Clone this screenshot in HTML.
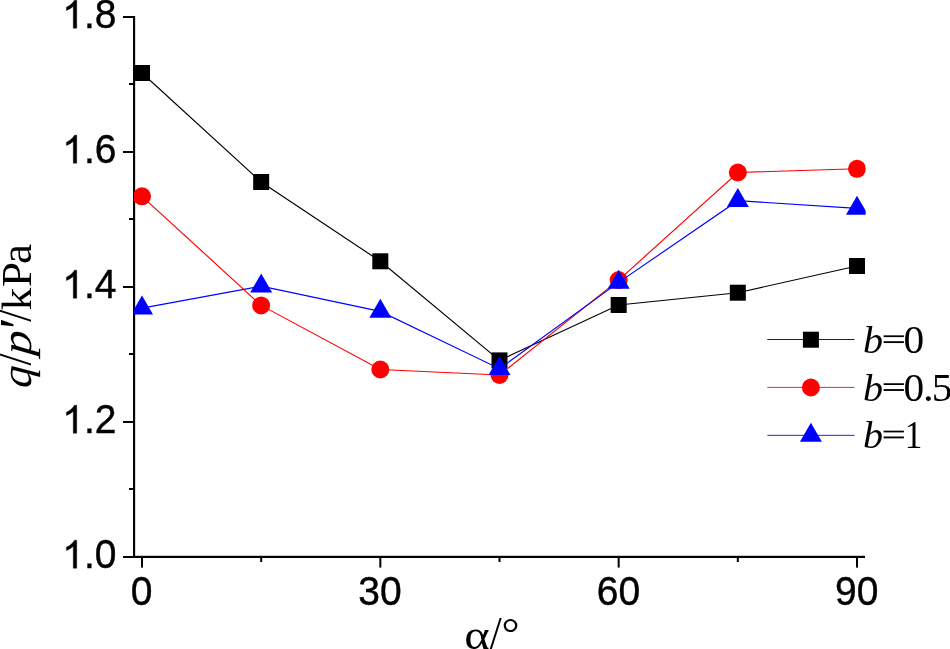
<!DOCTYPE html>
<html><head><meta charset="utf-8"><title>chart</title>
<style>
html,body{margin:0;padding:0;background:#fff;}
body{width:950px;height:649px;overflow:hidden;position:relative;}
svg{position:absolute;left:0;top:0;display:block;will-change:transform;}
.tk{font-family:"Liberation Sans",sans-serif;font-size:39px;fill:#000;stroke:#000;stroke-width:0.4px;}
.one{fill:#000;stroke:#000;stroke-width:0.4px;vector-effect:non-scaling-stroke;}
.sf{font-family:"Liberation Serif",serif;fill:#000;}
</style></head><body>
<svg width="950" height="649" viewBox="0 0 950 649">
<rect x="0" y="0" width="950" height="649" fill="#fff"/>
<defs><clipPath id="pa"><rect x="134" y="0" width="731.7" height="557"/></clipPath></defs>

<g fill="#000">
<rect x="133" y="16" width="2.15" height="542"/>
<rect x="133" y="555.8" width="732" height="2.2"/>
<rect x="123" y="16" width="11" height="2"/>
<rect x="123" y="151" width="11" height="2"/>
<rect x="123" y="286" width="11" height="2"/>
<rect x="123" y="421" width="11" height="2"/>
<rect x="123" y="556" width="11" height="2"/>
<rect x="129" y="83" width="5" height="2"/>
<rect x="129" y="218" width="5" height="2"/>
<rect x="129" y="353" width="5" height="2"/>
<rect x="129" y="488" width="5" height="2"/>
<rect x="141.00" y="557" width="2" height="10.6"/>
<rect x="379.33" y="557" width="2" height="10.6"/>
<rect x="617.67" y="557" width="2" height="10.6"/>
<rect x="856.00" y="557" width="2" height="10.6"/>
<rect x="260.17" y="557" width="2" height="5"/>
<rect x="498.50" y="557" width="2" height="5"/>
<rect x="736.83" y="557" width="2" height="5"/>
</g>
<g clip-path="url(#pa)">
<polyline points="142.00,73.00 261.17,182.00 380.33,261.30 499.50,360.40 618.67,305.00 737.83,292.70 857.00,266.00" fill="none" stroke="#000000" stroke-width="1.15"/>
<rect x="134.00" y="65.00" width="16.0" height="16.0" fill="#000000"/>
<rect x="253.17" y="174.00" width="16.0" height="16.0" fill="#000000"/>
<rect x="372.33" y="253.30" width="16.0" height="16.0" fill="#000000"/>
<rect x="491.50" y="352.40" width="16.0" height="16.0" fill="#000000"/>
<rect x="610.67" y="297.00" width="16.0" height="16.0" fill="#000000"/>
<rect x="729.83" y="284.70" width="16.0" height="16.0" fill="#000000"/>
<rect x="849.00" y="258.00" width="16.0" height="16.0" fill="#000000"/>
<polyline points="142.00,196.30 261.17,305.40 380.33,369.50 499.50,375.00 618.67,280.10 737.83,172.50 857.00,168.80" fill="none" stroke="#ff0000" stroke-width="1.15"/>
<circle cx="142.00" cy="196.30" r="9.0" fill="#ff0000"/>
<circle cx="261.17" cy="305.40" r="9.0" fill="#ff0000"/>
<circle cx="380.33" cy="369.50" r="9.0" fill="#ff0000"/>
<circle cx="499.50" cy="375.00" r="9.0" fill="#ff0000"/>
<circle cx="618.67" cy="280.10" r="9.0" fill="#ff0000"/>
<circle cx="737.83" cy="172.50" r="9.0" fill="#ff0000"/>
<circle cx="857.00" cy="168.80" r="9.0" fill="#ff0000"/>
<polyline points="142.00,308.10 261.17,286.20 380.33,311.40 499.50,368.70 618.67,282.40 737.83,200.70 857.00,208.40" fill="none" stroke="#0000ff" stroke-width="1.15"/>
<path d="M142.00,295.40 L153.00,314.45 L131.00,314.45 Z" fill="#0000ff"/>
<path d="M261.17,273.50 L272.17,292.55 L250.17,292.55 Z" fill="#0000ff"/>
<path d="M380.33,298.70 L391.33,317.75 L369.33,317.75 Z" fill="#0000ff"/>
<path d="M499.50,356.00 L510.50,375.05 L488.50,375.05 Z" fill="#0000ff"/>
<path d="M618.67,269.70 L629.67,288.75 L607.67,288.75 Z" fill="#0000ff"/>
<path d="M737.83,188.00 L748.83,207.05 L726.83,207.05 Z" fill="#0000ff"/>
<path d="M857.00,195.70 L868.00,214.75 L846.00,214.75 Z" fill="#0000ff"/>
</g>
<text class="tk" transform="translate(116.4,28.2) scale(1,1.04)" text-anchor="end">.8</text>
<path class="one" d="M763 0H583V1147Q518 1085 412.5 1023Q307 961 223 930V1104Q374 1175 487 1276Q600 1377 647 1472H763Z" transform="translate(62.19,28.2) scale(0.019043,-0.019043)"/>
<text class="tk" transform="translate(116.4,163.2) scale(1,1.04)" text-anchor="end">.6</text>
<path class="one" d="M763 0H583V1147Q518 1085 412.5 1023Q307 961 223 930V1104Q374 1175 487 1276Q600 1377 647 1472H763Z" transform="translate(62.19,163.2) scale(0.019043,-0.019043)"/>
<text class="tk" transform="translate(116.4,298.2) scale(1,1.04)" text-anchor="end">.4</text>
<path class="one" d="M763 0H583V1147Q518 1085 412.5 1023Q307 961 223 930V1104Q374 1175 487 1276Q600 1377 647 1472H763Z" transform="translate(62.19,298.2) scale(0.019043,-0.019043)"/>
<text class="tk" transform="translate(116.4,433.2) scale(1,1.04)" text-anchor="end">.2</text>
<path class="one" d="M763 0H583V1147Q518 1085 412.5 1023Q307 961 223 930V1104Q374 1175 487 1276Q600 1377 647 1472H763Z" transform="translate(62.19,433.2) scale(0.019043,-0.019043)"/>
<text class="tk" transform="translate(116.4,568.2) scale(1,1.04)" text-anchor="end">.0</text>
<path class="one" d="M763 0H583V1147Q518 1085 412.5 1023Q307 961 223 930V1104Q374 1175 487 1276Q600 1377 647 1472H763Z" transform="translate(62.19,568.2) scale(0.019043,-0.019043)"/>
<text class="tk" transform="translate(141.7,605.4) scale(1,1.04)" text-anchor="middle">0</text>
<text class="tk" transform="translate(380.0,605.4) scale(1,1.04)" text-anchor="middle">30</text>
<text class="tk" transform="translate(618.4,605.4) scale(1,1.04)" text-anchor="middle">60</text>
<text class="tk" transform="translate(856.7,605.4) scale(1,1.04)" text-anchor="middle">90</text>
<g class="sf" font-size="43"><text transform="translate(464.2,649.3) scale(1.13,1)">α</text><text transform="translate(489.8,649.3) scale(1,1.08)">/</text><text transform="translate(501.4,647.3) scale(1.05,1)">°</text></g>
<g transform="translate(30.8,0) rotate(-90)" class="sf" font-size="43">
<text transform="translate(-388.46,0) scale(1.03,1.0) skewX(-4)" font-style="italic">q</text>
<text transform="translate(-365.40,0) scale(1.0,1.1)" font-style="normal">/</text>
<text transform="translate(-355.76,0) scale(1.14,1.0) skewX(-4)" font-style="italic">p</text>
<text transform="translate(-332.27,4.9) scale(1.25,1.25)" font-style="italic">′</text>
<text transform="translate(-321.80,0) scale(1.0,1.1)" font-style="normal">/</text>
<text transform="translate(-310.18,0) scale(1.05,1.0)" font-style="normal">k</text>
<text transform="translate(-287.07,0) scale(1.05,1.0)" font-style="normal">P</text>
<text transform="translate(-264.02,0) scale(1.05,1.04)" font-style="normal">a</text>
</g>
<line x1="767.3" y1="339.5" x2="854.5" y2="339.5" stroke="#000000" stroke-width="0.88"/>
<rect x="802.9" y="331.7" width="16.0" height="16.0" fill="#000000"/>
<text class="sf" font-size="39" font-style="italic" transform="translate(862.9,352.7) scale(1.03,0.956)">b</text>
<rect x="883.6" y="335.35" width="20.3" height="1.75" fill="#000"/>
<rect x="883.6" y="341.20" width="20.3" height="1.85" fill="#000"/>
<text class="sf" font-size="39" font-style="normal" transform="translate(903.6,352.7) scale(1.06,1.03)">0</text>
<line x1="767.3" y1="387.4" x2="854.5" y2="387.4" stroke="#ff0000" stroke-width="0.88"/>
<circle cx="810.9" cy="387.5" r="9.0" fill="#ff0000"/>
<text class="sf" font-size="39" font-style="italic" transform="translate(862.9,400.6) scale(1.03,0.956)">b</text>
<rect x="883.6" y="383.25" width="20.3" height="1.75" fill="#000"/>
<rect x="883.6" y="389.10" width="20.3" height="1.85" fill="#000"/>
<text class="sf" font-size="39" font-style="normal" transform="translate(903.6,400.6) scale(1.06,1.03)">0</text>
<text class="sf" font-size="39" font-style="normal" transform="translate(923.0,400.6) scale(1.1,1.03)">.</text>
<text class="sf" font-size="39" font-style="normal" transform="translate(931.8,400.6) scale(1.06,1.03)">5</text>
<line x1="767.3" y1="435.35" x2="854.5" y2="435.35" stroke="#0000ff" stroke-width="0.88"/>
<path d="M810.90,422.70 L821.90,441.75 L799.90,441.75 Z" fill="#0000ff"/>
<text class="sf" font-size="39" font-style="italic" transform="translate(862.9,448.0) scale(1.03,0.956)">b</text>
<rect x="883.6" y="430.65" width="20.3" height="1.75" fill="#000"/>
<rect x="883.6" y="436.50" width="20.3" height="1.85" fill="#000"/>
<text class="sf" font-size="39" font-style="normal" transform="translate(904.7,448.0) scale(0.9,1.03)">1</text>
</svg></body></html>
